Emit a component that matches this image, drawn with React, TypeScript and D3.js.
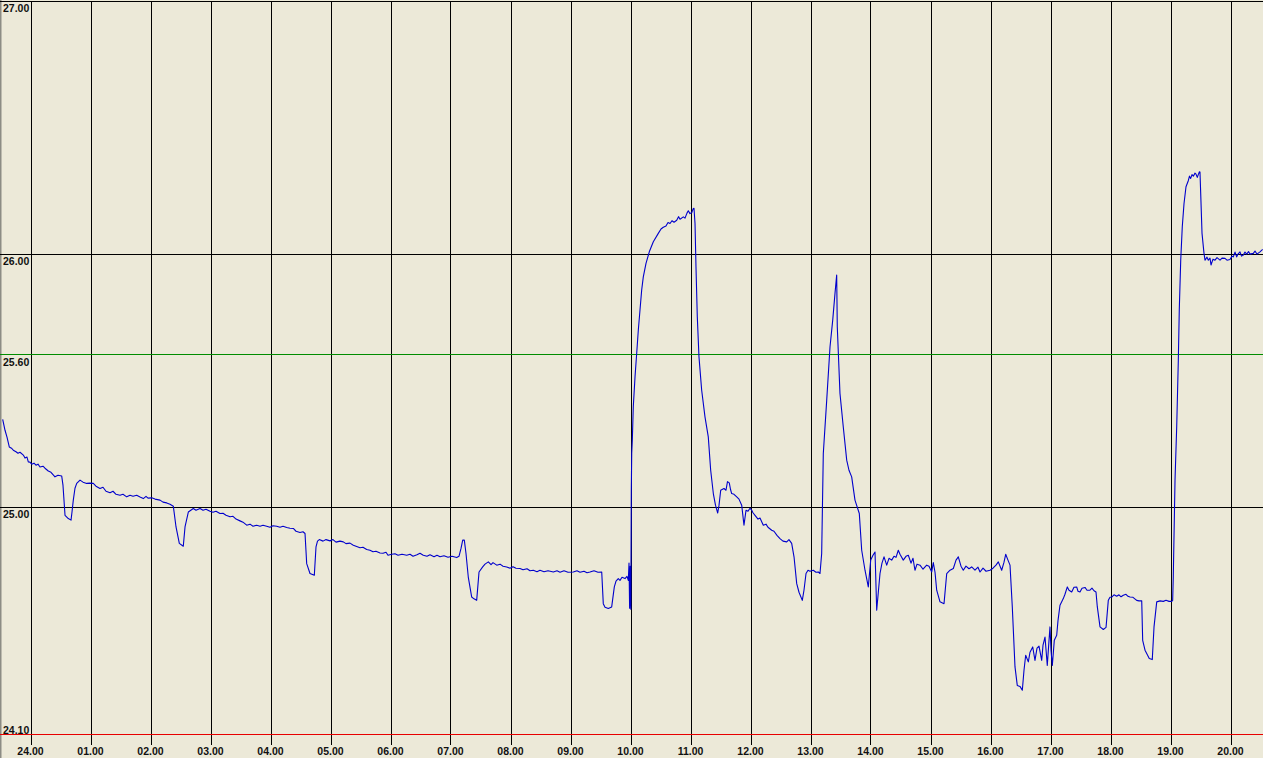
import React from "react";
import * as d3 from "d3";

// Hours after midnight (24.00 = 0)
const timeHours: number[] = [
  -0.472, -0.433, -0.4, -0.362, -0.325, -0.295, -0.25, -0.217, -0.183, -0.128, -0.1, -0.067, -0.045, -0.017,
  0.012, 0.05, 0.083, 0.117, 0.15, 0.2, 0.233, 0.288, 0.333, 0.4, 0.45, 0.512, 0.533, 0.567, 0.622, 0.667,
  0.683, 0.705, 0.733, 0.762, 0.817, 0.867, 0.928, 0.983, 1.038, 1.083, 1.15, 1.2, 1.25, 1.317, 1.367,
  1.417, 1.483, 1.533, 1.595, 1.65, 1.7, 1.762, 1.817, 1.872, 1.917, 1.95, 2.012, 2.067, 2.15, 2.2, 2.262,
  2.317, 2.372, 2.417, 2.472, 2.538, 2.567, 2.622, 2.705, 2.75, 2.817, 2.867, 2.917, 2.983, 3.033, 3.083,
  3.15, 3.2, 3.25, 3.317, 3.367, 3.417, 3.483, 3.533, 3.595, 3.65, 3.7, 3.762, 3.817, 3.867, 3.928, 3.983,
  4.033, 4.095, 4.15, 4.2, 4.262, 4.317, 4.372, 4.417, 4.483, 4.533, 4.567, 4.595, 4.65, 4.722, 4.75, 4.775,
  4.805, 4.867, 4.917, 4.983, 5.033, 5.083, 5.15, 5.205, 5.25, 5.317, 5.372, 5.417, 5.483, 5.533, 5.595,
  5.65, 5.7, 5.75, 5.817, 5.867, 5.917, 5.95, 6.012, 6.067, 6.117, 6.183, 6.262, 6.317, 6.367, 6.433, 6.483,
  6.538, 6.6, 6.65, 6.717, 6.767, 6.817, 6.883, 6.95, 7.017, 7.095, 7.133, 7.167, 7.195, 7.222, 7.25, 7.288,
  7.345, 7.383, 7.428, 7.467, 7.528, 7.567, 7.622, 7.667, 7.7, 7.762, 7.817, 7.867, 7.928, 7.983, 8.033,
  8.083, 8.15, 8.2, 8.267, 8.317, 8.372, 8.433, 8.483, 8.55, 8.617, 8.705, 8.767, 8.817, 8.883, 8.95, 9.038,
  9.1, 9.15, 9.217, 9.267, 9.317, 9.383, 9.45, 9.512, 9.538, 9.567, 9.622, 9.678, 9.722, 9.75, 9.788, 9.817,
  9.85, 9.9, 9.933, 9.955, 9.967, 9.977, 9.987, 9.997, 10.005, 10.012, 10.022, 10.038, 10.067, 10.095,
  10.122, 10.15, 10.178, 10.205, 10.25, 10.305, 10.372, 10.455, 10.5, 10.538, 10.583, 10.617, 10.65, 10.683,
  10.717, 10.762, 10.792, 10.817, 10.872, 10.9, 10.933, 10.955, 10.983, 11.012, 11.033, 11.05, 11.067,
  11.083, 11.105, 11.133, 11.178, 11.233, 11.288, 11.328, 11.372, 11.408, 11.445, 11.467, 11.495, 11.55,
  11.583, 11.608, 11.638, 11.658, 11.678, 11.717, 11.762, 11.8, 11.845, 11.883, 11.917, 11.95, 11.983,
  12.012, 12.033, 12.067, 12.117, 12.15, 12.205, 12.25, 12.283, 12.345, 12.383, 12.433, 12.483, 12.533,
  12.595, 12.633, 12.678, 12.717, 12.762, 12.8, 12.855, 12.883, 12.917, 12.95, 12.983, 13.038, 13.083,
  13.122, 13.15, 13.178, 13.205, 13.262, 13.317, 13.362, 13.4, 13.428, 13.438, 13.483, 13.538, 13.595,
  13.633, 13.678, 13.733, 13.805, 13.845, 13.9, 13.955, 13.995, 14.033, 14.067, 14.095, 14.15, 14.183,
  14.217, 14.262, 14.3, 14.345, 14.383, 14.417, 14.455, 14.483, 14.538, 14.583, 14.622, 14.667, 14.7,
  14.733, 14.767, 14.817, 14.867, 14.928, 14.967, 15.012, 15.038, 15.067, 15.095, 15.15, 15.217, 15.262,
  15.317, 15.372, 15.417, 15.455, 15.5, 15.538, 15.583, 15.633, 15.678, 15.733, 15.783, 15.817, 15.867,
  15.917, 15.983, 16.033, 16.083, 16.122, 16.178, 16.217, 16.245, 16.283, 16.317, 16.355, 16.4, 16.438,
  16.483, 16.522, 16.55, 16.578, 16.622, 16.65, 16.695, 16.733, 16.767, 16.8, 16.845, 16.867, 16.9, 16.938,
  16.967, 16.983, 17.0, 17.022, 17.055, 17.095, 17.117, 17.15, 17.205, 17.233, 17.272, 17.3, 17.345,
  17.383, 17.428, 17.45, 17.483, 17.517, 17.567, 17.6, 17.65, 17.683, 17.717, 17.75, 17.772, 17.817,
  17.872, 17.917, 17.955, 17.983, 18.012, 18.05, 18.095, 18.133, 18.167, 18.205, 18.25, 18.283, 18.317,
  18.367, 18.428, 18.467, 18.512, 18.528, 18.567, 18.638, 18.688, 18.717, 18.762, 18.817, 18.872, 18.917,
  18.967, 19.012, 19.028, 19.038, 19.067, 19.095, 19.122, 19.138, 19.162, 19.188, 19.217, 19.25, 19.288,
  19.308, 19.328, 19.35, 19.372, 19.4, 19.417, 19.438, 19.472, 19.483, 19.495, 19.517, 19.55, 19.567, 19.6,
  19.622, 19.65, 19.667, 19.7, 19.733, 19.767, 19.817, 19.85, 19.9, 19.933, 19.983, 20.017, 20.038, 20.067,
  20.095, 20.117, 20.15, 20.175, 20.205, 20.233, 20.262, 20.292, 20.317, 20.372, 20.4, 20.433, 20.483, 20.528,
];

const tempValues: number[] = [
  25.347, 25.304, 25.277, 25.238, 25.233, 25.225, 25.219, 25.213, 25.217, 25.206, 25.194, 25.198, 25.179, 25.178,
  25.17, 25.174, 25.166, 25.17, 25.159, 25.162, 25.154, 25.143, 25.138, 25.12, 25.126, 25.123, 25.087, 24.968, 24.955, 24.949,
  24.98, 25.028, 25.075, 25.094, 25.107, 25.099, 25.094, 25.095, 25.094, 25.083, 25.074, 25.079, 25.063, 25.057, 25.063,
  25.051, 25.047, 25.051, 25.041, 25.047, 25.043, 25.047, 25.04, 25.034, 25.043, 25.036, 25.037, 25.032, 25.028, 25.02, 25.017,
  25.012, 25.004, 24.922, 24.857, 24.846, 24.922, 24.981, 24.995, 24.988, 24.995, 24.988, 24.992, 24.984, 24.98, 24.984,
  24.975, 24.976, 24.968, 24.962, 24.964, 24.953, 24.946, 24.941, 24.929, 24.933, 24.925, 24.929, 24.925, 24.929, 24.925, 24.921,
  24.927, 24.925, 24.921, 24.925, 24.92, 24.917, 24.916, 24.905, 24.9, 24.903, 24.896, 24.777, 24.738, 24.731, 24.843, 24.866,
  24.872, 24.866, 24.872, 24.867, 24.872, 24.862, 24.866, 24.863, 24.856, 24.858, 24.85, 24.846, 24.84, 24.842, 24.833,
  24.83, 24.824, 24.826, 24.819, 24.818, 24.822, 24.81, 24.814, 24.816, 24.81, 24.814, 24.81, 24.814, 24.806, 24.812, 24.818,
  24.81, 24.806, 24.812, 24.804, 24.81, 24.804, 24.808, 24.802, 24.806, 24.801, 24.806, 24.837, 24.87, 24.87, 24.817, 24.724,
  24.645, 24.638, 24.632, 24.744, 24.764, 24.775, 24.784, 24.773, 24.781, 24.771, 24.775, 24.767, 24.764, 24.759, 24.765,
  24.759, 24.758, 24.753, 24.757, 24.749, 24.751, 24.745, 24.751, 24.745, 24.749, 24.744, 24.749, 24.743, 24.749, 24.743, 24.744,
  24.749, 24.743, 24.747, 24.741, 24.744, 24.749, 24.743, 24.744, 24.619, 24.605, 24.6, 24.606, 24.685, 24.708, 24.718, 24.711,
  24.723, 24.718, 24.727, 24.711, 24.779, 24.601, 24.767, 24.597, 25.067, 25.213, 25.265, 25.396, 25.515, 25.608,
  25.7, 25.779, 25.858, 25.91, 25.963, 26.009, 26.049, 26.082, 26.099, 26.106, 26.111, 26.125, 26.121, 26.132,
  26.126, 26.134, 26.148, 26.138, 26.147, 26.142, 26.162, 26.171, 26.16, 26.163, 26.178, 26.181, 26.121,
  25.95, 25.752, 25.594, 25.462, 25.357, 25.278, 25.146, 25.054, 25.008, 24.977, 25.008, 25.067, 25.074,
  25.067, 25.101, 25.096, 25.071, 25.054, 25.051, 25.041, 25.032, 25.008, 24.929, 24.988, 24.984, 24.996,
  24.988, 24.978, 24.968, 24.953, 24.957, 24.929, 24.933, 24.921, 24.909, 24.905, 24.889, 24.876, 24.866,
  24.863, 24.872, 24.857, 24.804, 24.698, 24.664, 24.632, 24.672, 24.738, 24.751, 24.747, 24.751, 24.743,
  24.744, 24.738, 24.817, 25.212, 25.423, 25.634, 25.739, 25.845, 25.917, 25.713, 25.449, 25.317, 25.186,
  25.146, 25.12, 25.028, 24.975, 24.83, 24.751, 24.685, 24.791, 24.81, 24.823, 24.593, 24.738, 24.779,
  24.804, 24.771, 24.798, 24.791, 24.806, 24.802, 24.83, 24.814, 24.791, 24.806, 24.81, 24.779, 24.798,
  24.751, 24.775, 24.771, 24.755, 24.771, 24.767, 24.744, 24.781, 24.743, 24.672, 24.626, 24.619, 24.738,
  24.751, 24.758, 24.791, 24.804, 24.767, 24.751, 24.767, 24.757, 24.764, 24.751, 24.763, 24.744, 24.759,
  24.747, 24.751, 24.759, 24.771, 24.784, 24.751, 24.783, 24.814, 24.791, 24.771, 24.606, 24.369, 24.296,
  24.292, 24.277, 24.356, 24.415, 24.389, 24.427, 24.448, 24.395, 24.443, 24.451, 24.395, 24.455, 24.487, 24.375,
  24.474, 24.527, 24.435, 24.375, 24.474, 24.494, 24.553, 24.613, 24.639, 24.656, 24.685, 24.672, 24.665,
  24.684, 24.685, 24.668, 24.665, 24.68, 24.683, 24.672, 24.672, 24.68, 24.67, 24.665, 24.606, 24.527,
  24.517, 24.525, 24.632, 24.644, 24.645, 24.654, 24.648, 24.654, 24.646, 24.652, 24.656, 24.648, 24.645,
  24.644, 24.632, 24.63, 24.63, 24.474, 24.435, 24.402, 24.398, 24.527, 24.626, 24.63, 24.628, 24.632,
  24.628, 24.628, 24.632, 24.724, 25.107, 25.317, 25.581, 25.779, 25.976, 26.108, 26.2, 26.266, 26.29,
  26.308, 26.299, 26.314, 26.308, 26.32, 26.316, 26.303, 26.325, 26.324, 26.24, 26.082, 26.003, 25.976, 25.988,
  25.976, 25.984, 25.957, 25.98, 25.976, 25.986, 25.976, 25.984, 25.983, 25.976, 25.979, 25.992, 25.989, 26.008,
  25.989, 26.0, 26.009, 25.992, 25.996, 26.008, 26.0, 26.01, 26.0, 26.003, 26.012, 26.0, 26.009, 26.019,
];

const gridValues: number[] = [27.0, 26.0, 25.0];
const upperLimit: number = 25.6;
const lowerLimit: number = 24.1;
const xTickHours: number[] = d3.range(0, 21);
const xTickLabels: string[] = [
  "24.00", "01.00", "02.00", "03.00", "04.00", "05.00", "06.00", "07.00", "08.00", "09.00", "10.00",
  "11.00", "12.00", "13.00", "14.00", "15.00", "16.00", "17.00", "18.00", "19.00", "20.00",
];

const W = 1263;
const H = 758;
const BG = "#ECE9D8";
const FONT = "'Liberation Sans', Arial, sans-serif";

export default function App() {
  const x = d3.scaleLinear().domain([0, 20]).range([31, 1231]);
  const y = d3.scaleLinear().domain([24.1, 27.0]).range([735, 1]);
  const fmt = d3.format(".2f");

  const points: [number, number][] = timeHours.map((h, i) => [h, tempValues[i]]);
  const line = d3
    .line<[number, number]>()
    .x((d) => x(d[0]))
    .y((d) => y(d[1]));

  // colored limit lines are placed on an even pixel row so their hue survives chroma subsampling
  const evenRow = (p: number) => Math.floor(p / 2) * 2 + 0.5;
  const yLines = [
    { v: gridValues[0], color: "#000000", below: true, row: Math.floor(y(gridValues[0])) + 0.5 },
    { v: gridValues[1], color: "#000000", below: true, row: Math.floor(y(gridValues[1])) + 0.5 },
    { v: upperLimit, color: "#008C00", below: true, row: evenRow(y(upperLimit)) },
    { v: gridValues[2], color: "#000000", below: true, row: Math.floor(y(gridValues[2])) + 0.5 },
    { v: lowerLimit, color: "#E80000", below: false, row: evenRow(y(lowerLimit) - 0.5) },
  ];

  return (
    <svg
      width={W}
      height={H}
      style={{ position: "absolute", left: 0, top: 0, display: "block" }}
    >
      <rect x={0} y={0} width={W} height={H} fill={BG} />
      <rect x={0} y={0} width={1.5} height={H} fill="#8C8C84" />

      {xTickHours.map((h) => (
        <line
          key={"vx" + h}
          x1={Math.floor(x(h)) + 0.5}
          x2={Math.floor(x(h)) + 0.5}
          y1={y(27.0)}
          y2={745}
          stroke="#000000"
          strokeWidth={1}
        />
      ))}

      {yLines.map((l, i) => (
        <line
          key={"hy" + i}
          x1={0}
          x2={W}
          y1={l.row}
          y2={l.row}
          stroke={l.color}
          strokeWidth={1}
        />
      ))}

      {yLines.map((l, i) => {
        const yy = y(l.v);
        return (
          <text
            key={"ty" + i}
            x={3}
            y={l.below ? yy + 10.5 : yy - 1}
            fontFamily={FONT}
            fontWeight="bold"
            fontSize={10.5}
            fill="#111"
          >
            {fmt(l.v)}
          </text>
        );
      })}

      {xTickHours.map((h, i) => (
        <text
          key={"tx" + h}
          x={x(h) - 0.5}
          y={755}
          textAnchor="middle"
          fontFamily={FONT}
          fontWeight="bold"
          fontSize={10.5}
          fill="#111"
        >
          {xTickLabels[i]}
        </text>
      ))}

      <path d={line(points) || ""} fill="none" stroke="#0000CC" strokeWidth={1.1} strokeLinejoin="round" />
    </svg>
  );
}
